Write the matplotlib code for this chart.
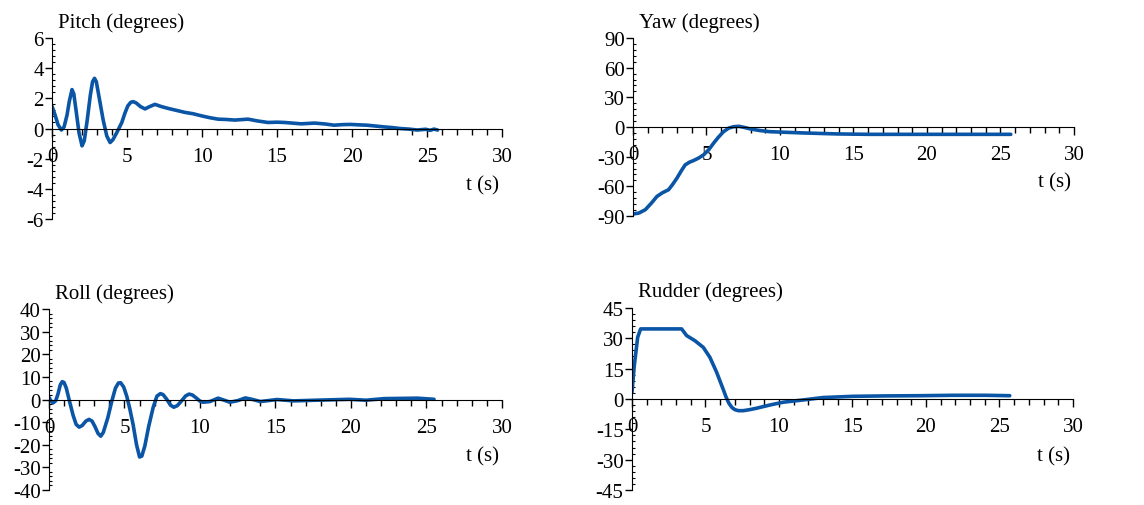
import matplotlib
matplotlib.use('Agg')
import matplotlib.pyplot as plt
from matplotlib.ticker import MultipleLocator, AutoMinorLocator

plt.rcParams['font.family'] = 'Liberation Serif'
plt.rcParams['axes.unicode_minus'] = False

# values
pitch_t = [0, 0.2, 0.4, 0.62, 0.8, 1.0, 1.15, 1.33, 1.45, 1.6, 1.8, 2.0, 2.15, 2.35, 2.55,
           2.7, 2.83, 2.95, 3.15, 3.4, 3.65, 3.87, 4.05, 4.3, 4.5, 4.65, 4.85, 5.05, 5.25,
           5.4, 5.6, 5.9, 6.2, 6.5, 6.86, 7.3, 7.75, 8.3, 8.85, 9.4, 9.96, 10.5, 11.07, 11.6,
           12.18, 13.06, 13.7, 14.4, 15.0, 15.5, 16.0, 16.6, 17.5, 18.2, 18.8, 19.4, 19.9,
           20.5, 21.0, 21.6, 22.1, 22.7, 23.2, 23.8, 24.35, 24.9, 25.2, 25.46, 25.7]
pitch = [1.47, 0.9, 0.25, -0.1, 0.1, 0.9, 1.8, 2.58, 2.3, 1.2, -0.3, -1.15, -0.8, 0.6, 2.2,
         3.1, 3.33, 3.1, 2.0, 0.6, -0.5, -0.93, -0.75, -0.3, 0.1, 0.4, 1.0, 1.5, 1.74,
         1.78, 1.7, 1.45, 1.3, 1.45, 1.6, 1.45, 1.33, 1.2, 1.07, 0.98, 0.84, 0.72, 0.62, 0.6,
         0.56, 0.62, 0.5, 0.4, 0.42, 0.4, 0.36, 0.31, 0.36, 0.3, 0.22, 0.26, 0.27,
         0.24, 0.22, 0.16, 0.11, 0.06, 0.0, -0.04, -0.1, -0.05, -0.12, -0.04, -0.1]

yaw_t = [0, 0.4, 0.84, 1.25, 1.63, 2.0, 2.42, 2.7, 2.99, 3.3, 3.55, 3.85, 4.12, 4.45, 4.8,
         5.15, 5.48, 5.8, 6.16, 6.5, 6.84, 7.2, 7.6, 8.0, 8.6, 9.3, 10.5, 11.6, 13.9, 16.1,
         18.4, 20.6, 22.9, 25.7]
yaw = [-88, -87, -83.6, -77, -70.2, -66.5, -63.4, -58, -51.7, -44, -38.3, -35.5, -33.9,
       -31.5, -28.2, -23, -16.4, -10.5, -4.7, -1.2, 0.3, 0.7, -0.5, -2, -3.5, -4.7, -5.4,
       -6, -7, -7.4, -7.4, -7.4, -7.4, -7.4]

roll_t = [0, 0.15, 0.27, 0.45, 0.6, 0.75, 0.88, 1.0, 1.15, 1.35, 1.6, 1.8, 2.0, 2.2, 2.45,
          2.65, 2.85, 3.05, 3.25, 3.43, 3.6, 3.9, 4.15, 4.4, 4.6, 4.75, 4.95, 5.15, 5.35,
          5.57, 5.8, 6.0, 6.15, 6.35, 6.6, 6.9, 7.15, 7.38, 7.55, 7.78, 8.05, 8.27, 8.5,
          8.78, 9.05, 9.28, 9.5, 9.77, 10.0, 10.2, 10.66, 11.2, 11.6, 11.98, 12.5, 13.0,
          13.5, 14.0, 15.1, 16.2, 17.7, 19.9, 21.0, 22.2, 24.4, 25.5]
roll = [1, -0.8, -1.5, -0.5, 2.5, 6.5, 7.9, 7.5, 5, -0.5, -7, -11, -12.2, -11.5, -9.5,
        -8.8, -9.5, -12, -15, -16.2, -14.5, -8, -1, 5, 7.3, 7.4, 5.5, 1.5, -4,
        -11, -20, -25.4, -25, -20.5, -12, -3.5, 1.5, 2.6, 2.2, 0.3, -2.5, -3.4, -2.7,
        -0.6, 1.6, 2.4, 2.0, 0.6, -0.7, -1.2, -0.9, 0.6, -0.3, -1.2, -0.5, 0.7,
        0, -0.9, 0, -0.6, -0.3, 0.1, -0.3, 0.4, 0.6, 0.1]

rudder_t = [0, 0.16, 0.39, 0.59, 3.38, 3.72, 4.28, 4.85, 5.3, 5.76, 6.2, 6.4, 6.6, 6.8,
            7.0, 7.25, 7.57, 8.0, 8.47, 9.38, 10.3, 11.65, 13.0, 15.05, 17.3, 19.6, 21.8,
            24.1, 25.7]
rudder = [3, 16.5, 30.5, 34.6, 34.6, 31.3, 28.8, 25.5, 20.6, 13.2, 4.9, 1, -2.2, -4.2,
          -5.3, -5.8, -5.8, -5.3, -4.6, -3, -1.6, -0.5, 0.7, 1.3, 1.5, 1.6, 1.8,
          1.8, 1.6]

titles = ['Pitch (degrees)', 'Yaw (degrees)', 'Roll (degrees)', 'Rudder (degrees)']
ylims = [6, 90, 40, 45]
ysteps = [2, 30, 10, 15]
series = [(pitch_t, pitch), (yaw_t, yaw), (roll_t, roll), (rudder_t, rudder)]

boxes = [[0.0455, 0.5652, 0.3934, 0.3577],
         [0.5533, 0.5711, 0.3855, 0.3518],
         [0.0428, 0.0296, 0.3960, 0.3577],
         [0.5524, 0.0296, 0.3855, 0.3600]]

line_color = '#0a55a5'
fs = 15

fig = plt.figure(figsize=(11.44, 5.06), dpi=100)

for box, title, lim, step, (t, v) in zip(boxes, titles, ylims, ysteps, series):
    ax = fig.add_axes(box)
    ax.plot(t, v, color=line_color, lw=2.6, solid_joinstyle='round', solid_capstyle='round')
    ax.set_xlim(0, 30)
    ax.set_ylim(-lim, lim)
    for s in ['top', 'right']:
        ax.spines[s].set_visible(False)
    ax.spines['left'].set_position(('data', 0))
    ax.spines['bottom'].set_position(('data', 0))
    ax.xaxis.set_major_locator(MultipleLocator(5))
    ax.xaxis.set_minor_locator(MultipleLocator(1))
    ax.yaxis.set_major_locator(MultipleLocator(step))
    ax.yaxis.set_minor_locator(AutoMinorLocator(5))
    ax.tick_params(axis='x', which='major', direction='out', length=6, width=1,
                   labelsize=fs, pad=7)
    ax.tick_params(axis='x', which='minor', direction='out', length=4, width=1)
    ax.tick_params(axis='y', which='major', direction='out', length=5, width=1,
                   labelsize=fs, pad=1)
    ax.tick_params(axis='y', which='minor', direction='in', length=2.5, width=0.8)
    ax.patch.set_alpha(0)
    ax.text(0.013, 1.09, title, transform=ax.transAxes, fontsize=fs, ha='left', va='center')
    ax.text(28.7, -lim * 0.62, 't (s)', fontsize=fs, ha='center', va='center')

fig.savefig('out.png', dpi=100)
